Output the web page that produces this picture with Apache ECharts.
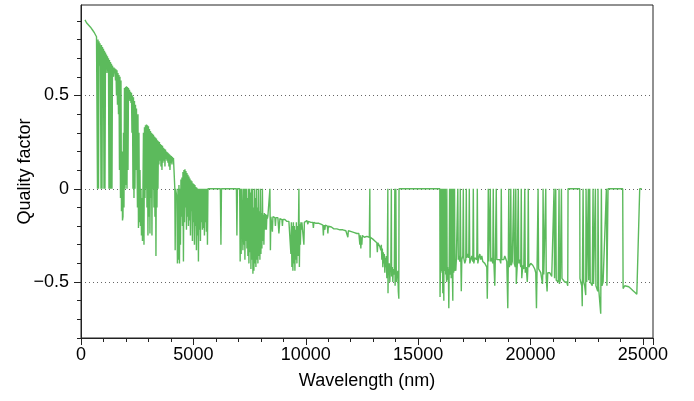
<!DOCTYPE html>
<html><head><meta charset="utf-8">
<script src="https://cdn.jsdelivr.net/npm/echarts@6/dist/echarts.min.js"></script>
<style>html,body{margin:0;padding:0;background:#fff}#c{width:694px;height:401px}</style>
</head><body><div id="c"></div>
<script>
// [wavelength nm, quality factor] pairs, by spectral region
const uvVisible = [[178,0.905],[200,0.895],[222,0.902],[245,0.89],[267,0.897],[290,0.883],[312,0.892],[334,0.878],[356,0.887],[378,0.872],[400,0.881],[423,0.866],[445,0.874],[467,0.858],[490,0.867],[512,0.851],[534,0.859],[556,0.843],[578,0.851],[600,0.835],[623,0.842],[645,0.826],[667,0.833],[690,0.815],[712,0.82],
[734,0],[756,0.80],[778,0],[801,0.79],[823,0.66],[845,0.78],[867,0.65],[890,0],[912,0.77],[934,0],[956,0.76],[978,0.66],[1000,0.75],[1023,0],[1045,0.74],[1067,0],[1089,0.73],[1112,0.64],[1134,0.72],[1156,0.62],[1178,0.71],[1200,0.63],[1223,0.70],[1245,0],[1267,0.69],[1289,0],[1312,0.68],[1334,0],[1356,0.67],[1378,0],[1400,0.66]];
const nearIR1 = [[1423,0.655],[1445,0.60],[1468,0.65],[1490,0.62],[1512,0.645],[1534,0.58],[1556,0.64],[1579,0.50],[1601,0.635],[1623,0.45],[1645,0.62],[1668,0.40],[1690,0.61],[1712,0.10],[1734,0.60],[1757,-0.05],[1779,0.58],[1801,-0.12],[1823,0.20],[1846,-0.17],[1868,-0.15],[1890,0.30],[1912,-0.10],[1934,0.54],[1957,0.0],[1979,0.545],[2001,0.02],[2023,0.55],[2046,0.0],[2068,0.545],[2090,0.10],[2112,0.54],[2135,0.48],[2157,0.53],[2179,0.47],[2201,0.52],[2224,0.46],[2246,0.515],[2268,0.30],[2290,0.50],[2312,0.0],[2335,0.49],[2357,-0.05],[2379,0.47],[2401,0.0],[2424,0.45],[2446,0.10],[2468,0.43],[2490,0.42],[2513,-0.10],[2535,0.40],[2557,-0.21],[2579,0.30],[2601,-0.18],[2624,0.10],[2646,-0.20],[2668,0.0],[2690,-0.25],[2713,-0.05],[2735,-0.28],[2757,0.0]];
const nearIR2 = [[2779,0.30],[2802,-0.30],[2824,0.33],[2846,-0.05],[2868,0.34],[2891,0.0],[2913,0.345],[2935,-0.10],[2957,0.34],[2979,-0.25],[3002,0.335],[3024,-0.15],[3046,0.32],[3068,-0.24],[3091,0.31],[3113,-0.05],[3135,0.30],[3157,-0.25],[3180,0.295],[3202,0.0],[3224,0.29],[3246,-0.10],[3269,0.28],[3291,-0.15],[3313,0.275],[3335,-0.36],[3357,0.27],[3380,-0.10],[3402,0.26],[3424,0.0],[3446,0.255],[3468,0.13],[3490,0.25],[3513,0.15],[3535,0.24],[3558,0.12],[3580,0.235],[3602,0.10],[3625,0.23],[3647,0.14],[3669,0.22],[3691,0.15],[3713,0.215],[3735,0.12],[3758,0.21],[3780,0.16],[3802,0.20],[3824,0.15],[3847,0.195],[3869,0.14],[3891,0.19],[3913,0.12],[3936,0.185],[3958,0.10],[3980,0.18],[4002,0.14],[4025,0.175],[4047,0.13],[4069,0.17],[4091,0.15],[4114,0.165],[4136,0.16],[4160,0.16]];
const midIR1 = [[4175,0.0],[4190,-0.33],[4210,0.0],[4250,0.0],[4269,-0.05],[4290,-0.40],[4314,0.0],[4336,-0.38],[4358,0.02],[4380,-0.40],[4403,0.0],[4425,-0.30],[4447,0.05],[4470,-0.15],[4492,0.06],[4514,-0.20],[4536,0.09],[4558,-0.39],[4580,0.10],[4603,-0.18],[4625,0.105],[4647,-0.10],[4669,0.095],[4692,-0.22],[4714,0.085],[4736,-0.15],[4758,0.075],[4781,-0.20],[4803,0.065],[4825,-0.17],[4847,0.055],[4870,-0.25],[4892,0.045],[4914,-0.12],[4936,0.04],[4958,-0.28],[4981,0.03],[5003,-0.18],[5025,0.025],[5047,-0.30],[5070,0.02],[5092,-0.20],[5114,0.01],[5136,-0.33],[5158,0.005],[5180,-0.25],[5203,0.0],[5225,-0.39],[5247,0.0],[5270,-0.22],[5292,0.0],[5314,-0.28],[5336,0.0],[5358,-0.18],[5381,0.0],[5403,-0.22],[5425,0.0],[5447,-0.21],[5470,0.0],[5492,-0.25],[5514,0.0],[5536,-0.18],[5559,0.0],[5581,-0.23],[5603,0.0],[5626,-0.30],[5648,0.0],
[5900,0.0],[6200,0.0],[6226,-0.30],[6250,0.0],[6915,0.0],[6937,-0.25],[6960,0.0],[7060,0.0],[7082,-0.39],[7104,0.0],[7126,-0.35],[7148,0.0],[7180,0.0]];
const midIR2 = [[7204,-0.33],[7226,0],[7248,-0.30],[7270,0],[7293,-0.38],[7315,0],[7337,-0.28],[7359,0],[7382,-0.32],[7404,-0.05],[7426,-0.36],[7448,0],[7471,-0.40],[7493,0],[7515,-0.34],[7537,-0.02],[7560,-0.43],[7582,0],[7604,-0.38],[7626,0],[7649,-0.455],[7671,-0.10],[7693,-0.44],[7715,0],[7738,-0.40],[7760,-0.05],[7782,-0.42],[7804,0],[7827,-0.38],[7849,-0.10],[7871,-0.40],[7893,0],[7916,-0.36],[7938,-0.12],[7960,-0.38],[7982,0],[8005,-0.35],[8027,-0.13],[8049,-0.32],[8071,0],[8094,-0.28],[8116,-0.14],[8138,-0.30],[8160,-0.13],[8183,-0.22],[8205,-0.135],
[8227,-0.14],[8249,-0.22],[8271,-0.14],[8293,-0.16],[8316,-0.145],[8360,-0.15],[8383,-0.145],[8405,0],[8427,-0.33],[8449,-0.15],[8494,-0.145],[8516,-0.23],[8538,-0.15],[8583,-0.15],[8627,-0.155],[8650,-0.20],[8672,-0.155],[8716,-0.16],[8761,-0.155],[8805,-0.24],[8850,-0.16],[8894,-0.16],[8939,-0.165],[8961,-0.20],[8983,-0.165],[9028,-0.17],[9072,-0.165],[9116,-0.17],[9161,-0.175],[9205,-0.17],[9250,-0.175],[9294,-0.17],[9339,-0.35],[9361,-0.18],[9383,-0.42],[9405,-0.20],[9428,-0.44],[9450,-0.18],[9472,-0.40],[9494,-0.20],[9517,-0.44],[9539,-0.22],[9561,-0.38],[9583,-0.18],[9606,-0.40],[9628,-0.20],[9650,-0.36],[9672,-0.25],[9695,0],[9717,-0.42],[9739,-0.19],[9761,-0.30],[9784,-0.18],[9806,-0.22],[9828,-0.18]];
const midIR3 = [[9872,-0.175],[9917,-0.30],[9939,-0.18],[9961,-0.17],[10006,-0.175],[10050,-0.17],[10095,-0.19],[10117,-0.175],[10184,-0.175],[10228,-0.18],[10273,-0.175],[10317,-0.18],[10339,-0.21],[10362,-0.18],[10406,-0.18],[10451,-0.185],[10495,-0.18],[10539,-0.19],[10584,-0.185],[10628,-0.19],[10673,-0.19],[10717,-0.19],[10762,-0.195],[10784,-0.25],[10806,-0.195],[10851,-0.22],[10873,-0.195],[10917,-0.195],[10962,-0.20],[10984,-0.24],[11006,-0.20],[11073,-0.205],[11140,-0.205],[11206,-0.21],[11251,-0.215],[11273,-0.22],[11318,-0.21],[11384,-0.215],[11451,-0.215],[11518,-0.22],[11584,-0.22],[11651,-0.22],[11718,-0.225],[11784,-0.225],[11829,-0.23],[11873,-0.26],[11895,-0.225],[11962,-0.23],[12029,-0.23],[12096,-0.23],[12163,-0.235],[12229,-0.235],[12274,-0.24],[12318,-0.235],[12363,-0.24],[12407,-0.30],[12429,-0.25],[12451,-0.32],[12474,-0.26],[12496,-0.30],[12518,-0.25],[12563,-0.25],[12607,-0.26],[12651,-0.25],[12718,-0.255],[12785,-0.26],[12829,-0.26],[12851,0],[12862,-0.37],[12874,-0.26],[12918,-0.265],[12985,-0.27],[13029,-0.275],[13074,-0.28],[13118,-0.285],[13163,-0.29],[13185,-0.34],[13207,-0.29],[13252,-0.30],[13296,-0.31],
[13340,-0.33],[13363,-0.30],[13385,-0.38],[13407,-0.32],[13429,-0.42],[13452,-0.34],[13474,-0.40],[13496,-0.35],[13518,-0.45],[13541,-0.37],[13563,-0.42],[13585,-0.36],[13607,-0.48],[13630,-0.38],[13652,0],[13660,-0.56],[13674,-0.40],[13696,-0.46],[13718,-0.40],[13741,-0.50],[13763,-0.42],[13785,-0.44],[13808,0],[13820,-0.47],[13852,-0.42],[13874,-0.50],[13896,-0.43],[13918,-0.46],[13941,-0.44],[13963,0],[13975,-0.52],[13996,-0.44],[14008,0],[14030,-0.50],[14052,-0.45],[14074,-0.48],[14096,-0.44],[14118,-0.55],[14141,-0.59],[14150,0],[15000,0]];
const farIR1 = [[15965,0],[15975,-0.58],[15990,-0.45],[16009,0],[16020,-0.42],[16040,-0.44],[16054,0],[16065,-0.45],[16085,-0.40],[16098,-0.56],[16110,0],[16125,-0.41],[16143,-0.60],[16160,0],[16175,-0.44],[16195,-0.42],[16210,0],[16225,-0.46],[16245,-0.43],[16265,-0.50],[16276,0],[16290,-0.44],[16310,-0.42],[16330,-0.49],[16345,-0.43],[16365,-0.64],[16380,-0.45],[16400,0],[16415,-0.46],[16435,-0.43],[16454,0],[16470,-0.48],[16490,-0.42],[16510,0],[16525,-0.47],[16543,-0.60],[16560,0],[16580,-0.45],[16600,-0.43],[16620,0],[16640,-0.44],[16660,-0.40],[16676,-0.44],[16700,-0.38],
[16721,-0.37],[16765,0],[16787,-0.38],[16810,-0.36],[16854,-0.39],[16876,0],[16899,-0.37],[16921,-0.55],[16943,-0.38],[16988,-0.36],[17010,0],[17032,-0.37],[17076,-0.40],[17121,-0.38],[17143,0],[17165,-0.37],[17210,-0.35],[17254,-0.37],[17277,0],[17299,-0.40],[17343,-0.38],[17388,-0.36],[17432,-0.39],[17455,0],[17477,-0.40],[17521,-0.37],[17566,-0.36],[17610,-0.38],[17633,0],[17655,-0.40],[17700,-0.37],[17744,-0.35],[17788,-0.38],[17833,-0.36],[17877,-0.39],[17921,-0.38],[17966,-0.40],[18010,-0.39],[18055,-0.42],[18077,-0.59],[18099,-0.40],[18121,0],[18143,-0.39],[18188,-0.38],[18210,0],[18232,-0.39],[18277,-0.37],[18321,-0.40],[18343,0],[18366,-0.38],[18410,-0.52],[18432,-0.39],[18477,0],[18500,-0.38],[18544,-0.37],[18588,-0.39],[18633,-0.38],[18677,-0.40],[18700,0],[18722,-0.38],[18766,-0.37],[18811,-0.38],[18855,-0.36],[18900,-0.37],[18944,-0.39],[18989,-0.64],[19011,-0.40],[19033,0],[19055,-0.42],[19100,-0.40],[19122,0],[19145,-0.41],[19189,-0.39],[19233,-0.38],[19256,0],[19278,-0.40],[19322,-0.42],[19344,0],[19367,-0.51],[19411,-0.41],[19456,0],[19478,-0.40],[19522,-0.38],[19567,-0.42],[19589,0],[19611,-0.48],[19656,-0.41],[19700,-0.43],[19745,0],[19767,-0.45],[19811,-0.42],[19856,-0.50],[19878,-0.44],[19900,0],[19922,-0.42]];
const farIR2 = [[19967,-0.41],[20011,-0.40],[20056,-0.405],[20100,-0.41],[20145,-0.42],[20189,-0.43],[20234,-0.45],[20265,-0.64],[20290,-0.44],[20337,0],[20360,-0.43],[20412,-0.44],[20456,-0.45],[20501,-0.46],[20532,-0.51],[20545,-0.45],[20559,0],[20590,-0.46],[20634,-0.47],[20679,0],[20700,-0.48],[20738,-0.55],[20767,-0.45],[20812,-0.44],[20856,-0.45],[20900,-0.46],[20945,-0.47],[20990,-0.48],[21048,0],[21070,-0.48],[21101,-0.49],[21123,0],[21145,-0.49],[21190,-0.50],[21234,-0.50],[21270,0],[21285,-0.51],[21323,-0.49],[21376,0],[21400,-0.48],[21434,-0.47],[21479,-0.49],[21523,-0.50],[21568,-0.49],[21612,-0.50],[21657,-0.52],[21670,0],[22191,0],
[22200,-0.48],[22235,-0.50],[22280,-0.52],[22302,-0.63],[22339,0],[22369,-0.50],[22410,-0.52],[22457,-0.57],[22472,0],[22502,-0.50],[22546,-0.49],[22572,0],[22590,-0.49],[22635,0],[22657,-0.50],[22702,-0.51],[22746,-0.52],[22783,0],[22805,-0.51],[22850,-0.52],[22887,0],[22910,-0.52],[22960,-0.53],[22991,-0.55],[23002,0],[23030,-0.53],[23080,-0.54],[23124,-0.67],[23153,0],[23180,-0.52],[23230,-0.50],[23258,-0.49],[23300,-0.51],[23377,0],[23400,-0.52],[23440,-0.53],[23450,0],[24102,0],
[24120,-0.535],[24192,-0.52],[24280,-0.52],[24370,-0.525],[24460,-0.535],[24550,-0.545],[24640,-0.555],[24730,-0.565],[24814,-0.575],[24859,0],[24948,0]];

const xMajorTicks = [0, 5000, 10000, 15000, 20000, 25000];
const yMajorTicks = [-0.5, 0, 0.5];
const yMinorTicks = [-0.8,-0.7,-0.6,-0.5,-0.4,-0.3,-0.2,-0.1,0,0.1,0.2,0.3,0.4,0.5,0.6,0.7,0.8,0.9];

const data = [].concat(uvVisible, nearIR1, nearIR2, midIR1, midIR2, midIR3, farIR1, farIR2);
const FONT = '"Liberation Sans", Arial, Helvetica, sans-serif';
const AX = '#222';

const chart = echarts.init(document.getElementById('c'), null, {renderer: 'canvas'});
chart.setOption({
  animation: false,
  textStyle: {fontFamily: FONT},
  grid: {left: 81, right: 41, top: 5, bottom: 63, show: true, borderColor: AX, borderWidth: 1, backgroundColor: 'transparent'},
  xAxis: {
    type: 'value', min: 0, max: 25450, interval: 5000,
    name: 'Wavelength (nm)', nameLocation: 'middle', nameGap: 34,
    nameTextStyle: {fontFamily: FONT, fontSize: 18, color: '#000'},
    axisLine: {show: true, onZero: false, lineStyle: {color: AX, width: 1}},
    axisTick: {show: true, length: 7, lineStyle: {color: AX}},
    minorTick: {show: true, splitNumber: 5, length: 4, lineStyle: {color: AX}},
    axisLabel: {fontFamily: FONT, fontSize: 18, color: '#000', margin: 8,
      formatter: v => (xMajorTicks.indexOf(v) >= 0 ? String(v) : '')},
    splitLine: {show: false}, minorSplitLine: {show: false}
  },
  yAxis: [{
    type: 'value', min: -0.8, max: 0.985, position: 'left',
    name: 'Quality factor', nameLocation: 'middle', nameGap: 47,
    nameTextStyle: {fontFamily: FONT, fontSize: 18, color: '#000'},
    axisLine: {show: true, onZero: false, lineStyle: {color: AX, width: 1}},
    axisTick: {show: true, length: 4, customValues: yMinorTicks, lineStyle: {color: AX}},
    axisLabel: {show: false},
    splitLine: {show: false}
  }, {
    type: 'value', min: -0.8, max: 0.985, position: 'left',
    axisLine: {show: false, onZero: false},
    axisTick: {show: true, length: 7, customValues: yMajorTicks, lineStyle: {color: AX}},
    axisLabel: {show: true, customValues: yMajorTicks, fontFamily: FONT, fontSize: 18, color: '#000', margin: 12,
      formatter: v => (v < 0 ? '\u2212' + Math.abs(v) : String(v))},
    splitLine: {show: true, lineStyle: {color: '#666', width: 1, type: [1, 3]}}
  }],
  series: [{
    type: 'line', data: data, yAxisIndex: 0, showSymbol: false, symbol: 'none',
    sampling: null, lineStyle: {color: '#5cba5c', width: 1.4}, emphasis: {disabled: true}
  }]
});
</script></body></html>
